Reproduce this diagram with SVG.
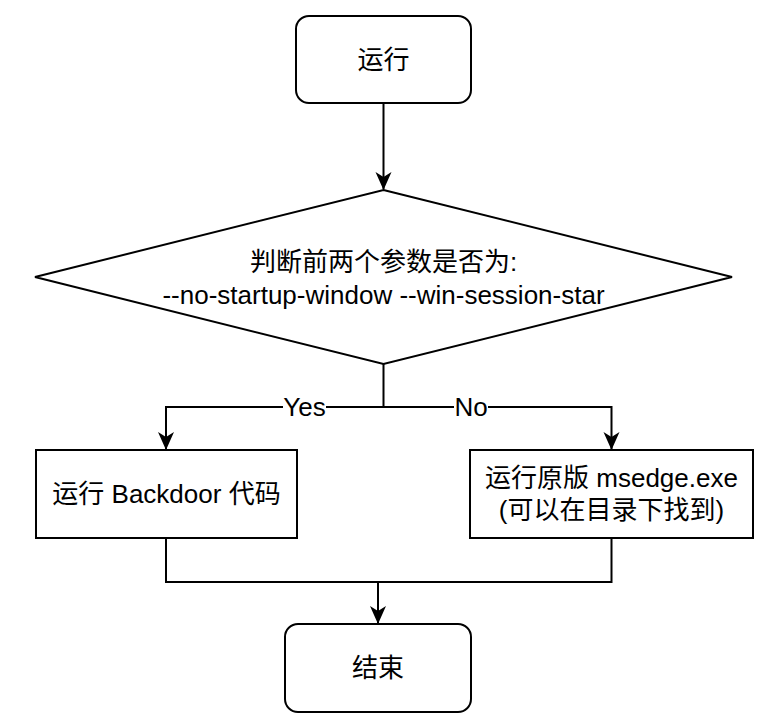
<svg xmlns="http://www.w3.org/2000/svg" width="776" height="728" viewBox="0 0 776 728">
<defs>
<style>
.shape{fill:#ffffff;stroke:#000000;stroke-width:2}
.edge{fill:none;stroke:#000000;stroke-width:2}
.t{font-family:"Liberation Sans","Noto Sans CJK SC",sans-serif;font-size:26px;fill:#000000;text-anchor:middle}
.lbl{fill:#ffffff;stroke:none}
</style>
<marker id="arr" viewBox="0 0 18 18" refX="17" refY="9" markerWidth="18" markerHeight="18" markerUnits="userSpaceOnUse" orient="auto">
<path d="M0,1 L18,9 L0,17 L5,9 Z" fill="#000000"/>
</marker>
</defs>
<rect width="776" height="728" fill="#ffffff"/>
<g id="connectors">
<path class="edge" d="M383.5 103 V189" marker-end="url(#arr)"/>
<path class="edge" d="M383.5 364 V407 H166 V449" marker-end="url(#arr)"/>
<path class="edge" d="M383.5 407 H611.5 V449" marker-end="url(#arr)"/>
<path class="edge" d="M166 538 V582 H378 V623" marker-end="url(#arr)"/>
<path class="edge" d="M611.5 538 V582 H378"/>
<g id="label-yes">
<rect class="lbl" x="283" y="395" width="43" height="24"/>
<text class="t" x="304.5" y="416">Yes</text>
</g>
<g id="label-no">
<rect class="lbl" x="454" y="395" width="34" height="24"/>
<text class="t" x="471" y="416">No</text>
</g>
</g>
<g id="start">
<rect class="shape" x="296" y="16" width="175" height="87" rx="13" ry="13"/>
<text class="t" x="383.5" y="69">运行</text>
</g>
<g id="decision">
<polygon class="shape" points="383.5,190 732,277 383.5,364 35,277"/>
<text class="t" x="383.5" y="271">判断前两个参数是否为:</text>
<text class="t" x="383.5" y="304">--no-startup-window --win-session-star</text>
</g>
<g id="backdoor">
<rect class="shape" x="36" y="450" width="261" height="88"/>
<text class="t" x="166.5" y="503">运行 Backdoor 代码</text>
</g>
<g id="original">
<rect class="shape" x="470" y="450" width="283" height="88"/>
<text class="t" x="611.5" y="487">运行原版 msedge.exe</text>
<text class="t" x="611.5" y="519">(可以在目录下找到)</text>
</g>
<g id="end">
<rect class="shape" x="285" y="624" width="186" height="88" rx="13" ry="13"/>
<text class="t" x="378" y="677">结束</text>
</g>
</svg>
